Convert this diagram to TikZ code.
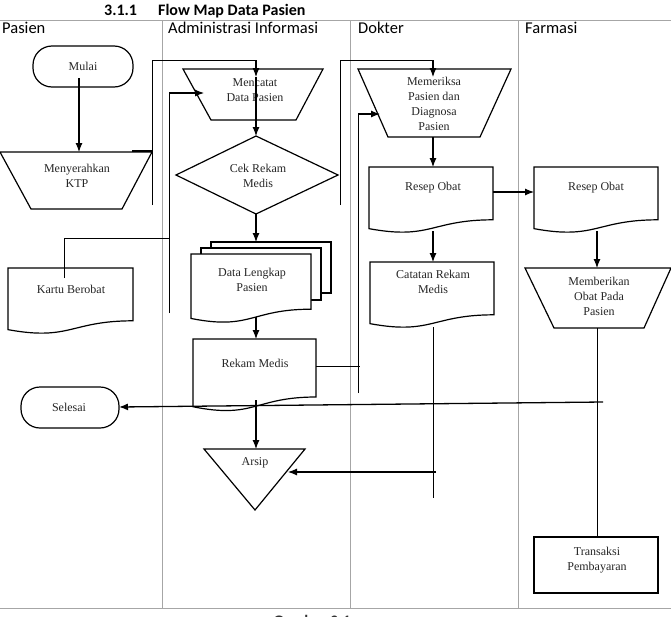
\documentclass[tikz,border=0pt]{standalone}
\usepackage{fontspec}
\setmainfont{Liberation Serif}
\newfontfamily\hdrfont{Carlito}
\usetikzlibrary{arrows.meta}
\newcommand\mydoc[5][]{%
  \pgfmathsetmacro\dm{(#2+#3)/2}%
  \pgfmathsetmacro\dr{#4+0.8*#5}%
  \pgfmathsetmacro\dc{#4+1.107*#5}%
  \pgfmathsetmacro\dl{#4+0.934*#5}%
  \draw[shp,#1] (#2,#4) -- (#3,#4) -- (#3,\dr) .. controls (\dm,\dr) and (\dm,\dc) .. (#2,\dl) -- cycle;}
\begin{document}
\begin{tikzpicture}[x=1pt,y=-1pt,
  shp/.style={draw=black, line width=1.2pt, fill=white, line join=miter},
  lbl/.style={font=\fontsize{12}{15}\selectfont, align=center, inner sep=0pt, text=black!85},
  hdr/.style={font=\hdrfont\fontsize{16.5}{19}\selectfont, anchor=base west, inner sep=0pt},
  conn/.style={line width=1.1pt},
  arr/.style={conn, -{Latex[length=9pt,width=7pt]}},
  thinl/.style={line width=0.9pt},
  lane/.style={draw=gray!70, line width=1pt}]
\useasboundingbox (0,0) rectangle (671,616);

% title
\node[font=\hdrfont\bfseries\fontsize{16}{19}\selectfont, anchor=base west, inner sep=0pt] (tnum) at (104,15) {3.1.1};
\node[font=\hdrfont\bfseries\fontsize{16}{19}\selectfont, anchor=base west, inner sep=0pt] (ttitle) at (158,15) {Flow Map Data Pasien};

% swimlanes
\draw[lane] (0,20) -- (671,20);
\draw[lane] (0,608) -- (671,608);
\draw[lane] (162,20) -- (162,608);
\draw[lane] (350,20) -- (350,608);
\draw[lane] (518,20) -- (518,608);
\node[hdr] (hPasien) at (2,33) {Pasien};
\node[hdr] (hAdmin) at (168,33) {Administrasi Informasi};
\node[hdr] (hDokter) at (358,33) {Dokter};
\node[hdr] (hFarmasi) at (525,33) {Farmasi};
\node[font=\hdrfont\bfseries\fontsize{16}{19}\selectfont, anchor=base, inner sep=0pt, text=black!80] (gambar) at (312,626) {Gambar 3.1};

% shapes
\draw[shp, rounded corners=19pt] (33,46) rectangle (133,87);
\draw[shp] (0,152) -- (152,152) -- (122,209) -- (31,209) -- cycle;
\draw[shp] (183,69) -- (323,69) -- (296,120) -- (211,120) -- cycle;
\draw[shp] (256,136) -- (338,175) -- (256,214) -- (176,175) -- cycle;
\draw[shp] (358,69) -- (511,69) -- (480,137) -- (388,137) -- cycle;
\mydoc{369}{493}{167}{66}
\mydoc{534}{658}{167}{66}
\mydoc{370}{494}{262}{66}
\draw[shp] (525,268) -- (671,268) -- (644,328) -- (554,328) -- cycle;
\mydoc{8}{133}{268}{66}
\draw[shp] (211,242) rectangle (331,293);
\draw[shp] (201,248) rectangle (321,300);
\mydoc{191}{311}{254}{69}
\mydoc{193}{316}{339}{72.5}
\draw[shp, rounded corners=19pt] (21,387) rectangle (119,428);
\draw[shp] (204,449) -- (305,449) -- (255,510) -- cycle;
\draw[shp] (534,537) rectangle (658,593);

% labels
\node[lbl] (tMulai) at (83,66) {Mulai};
\node[lbl] (tKTP) at (77,176) {Menyerahkan\\KTP};
\node[lbl] (tCatat) at (255,90) {Mencatat\\Data Pasien};
\node[lbl] (tCek) at (258,176) {Cek Rekam\\Medis};
\node[lbl] (tPeriksa) at (434,104) {Memeriksa\\Pasien dan\\Diagnosa\\Pasien};
\node[lbl] (tResepD) at (433,188) {Resep Obat};
\node[lbl] (tResepF) at (596,188) {Resep Obat};
\node[lbl] (tCatatan) at (433,282) {Catatan Rekam\\Medis};
\node[lbl] (tBeri) at (599,296) {Memberikan\\Obat Pada\\Pasien};
\node[lbl] (tKartu) at (71,289) {Kartu Berobat};
\node[lbl] (tLengkap) at (252,280) {Data Lengkap\\Pasien};
\node[lbl] (tRekam) at (255,363) {Rekam Medis};
\node[lbl] (tSelesai) at (69,407) {Selesai};
\node[lbl] (tArsip) at (255,463) {Arsip};
\node[lbl] (tTrans) at (597,560) {Transaksi\\Pembayaran};

% connector end points
\coordinate (mulaiS) at (79,78);
\coordinate (ktpN) at (79,152);
\coordinate (ktpNE) at (132,151);
\coordinate (ktpE) at (152,151);
\coordinate (ktpUp) at (152,205);
\coordinate (ktpTop) at (152,60);
\coordinate (catatTop) at (256,60);
\coordinate (catatIn) at (256,77);
\coordinate (cekN) at (256,136);
\coordinate (cekS) at (256,214);
\coordinate (lengkapN) at (256,242);
\coordinate (lengkapS) at (256,317);
\coordinate (rekamN) at (256,339);
\coordinate (rekamS) at (256,400);
\coordinate (arsipN) at (256,449);
\coordinate (kartuIn) at (64,278);
\coordinate (kartuUp) at (64,238);
\coordinate (kartuR) at (170,238);
\coordinate (kvLow) at (169,313);
\coordinate (kvTop) at (169,93);
\coordinate (catatW) at (204,93);
\coordinate (cekUp) at (340,205);
\coordinate (cekTop) at (340,60);
\coordinate (periksaTop) at (433,60);
\coordinate (periksaIn) at (433,77);
\coordinate (rekamE) at (316,366);
\coordinate (rekamR) at (360,366);
\coordinate (rvLow) at (358,393);
\coordinate (rvTop) at (358,114);
\coordinate (periksaW) at (380,114);
\coordinate (periksaS) at (433,137);
\coordinate (resepDN) at (433,167);
\coordinate (resepDE) at (493,192);
\coordinate (resepFW) at (534,192);
\coordinate (resepDS) at (433,231);
\coordinate (catatanN) at (433,262);
\coordinate (catatanS) at (433,327);
\coordinate (catatanLow) at (433,498);
\coordinate (arsipFrom) at (436,472);
\coordinate (arsipE) at (288,472);
\coordinate (resepFS) at (597,231);
\coordinate (beriN) at (597,268);
\coordinate (beriS) at (597,328);
\coordinate (transN) at (597,537);
\coordinate (longStart) at (603,402);
\coordinate (selesaiE) at (119,407);

% connectors
\draw[arr] (mulaiS) -- (ktpN);
\draw[conn] (ktpNE) -- (ktpE);
\draw[thinl] (ktpUp) -- (ktpTop) -- (catatTop);
\draw[arr] (catatTop) -- (catatIn);
\draw[arr] (catatIn) -- (cekN);
\draw[arr] (cekS) -- (lengkapN);
\draw[arr] (lengkapS) -- (rekamN);
\draw[arr] (rekamS) -- (arsipN);
\draw[thinl] (kartuIn) -- (kartuUp) -- (kartuR);
\draw[thinl] (kvLow) -- (kvTop);
\draw[arr] (kvTop) -- (catatW);
\draw[thinl] (cekUp) -- (cekTop) -- (periksaTop);
\draw[arr] (periksaTop) -- (periksaIn);
\draw[thinl] (rekamE) -- (rekamR);
\draw[thinl] (rvLow) -- (rvTop);
\draw[arr] (rvTop) -- (periksaW);
\draw[arr] (periksaS) -- (resepDN);
\draw[arr] (resepDE) -- (resepFW);
\draw[arr] (resepDS) -- (catatanN);
\draw[thinl] (catatanS) -- (catatanLow);
\draw[arr] (arsipFrom) -- (arsipE);
\draw[arr] (resepFS) -- (beriN);
\draw[thinl] (beriS) -- (transN);
\draw[arr, line width=1.3pt] (longStart) -- (selesaiE);
\end{tikzpicture}
\end{document}
